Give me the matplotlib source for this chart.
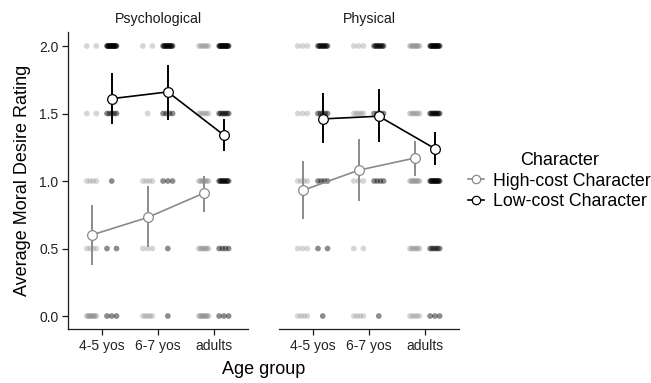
import matplotlib

matplotlib.use("Agg")
import matplotlib.pyplot as plt
import numpy as np
from matplotlib.lines import Line2D

plt.rcParams["font.family"] = ["Liberation Sans", "DejaVu Sans"]

AGES = ["4-5 yos", "6-7 yos", "adults"]
RATINGS = [0.0, 0.5, 1.0, 1.5, 2.0]
PANELS = ["Psychological", "Physical"]
CHARACTERS = ["High-cost Character", "Low-cost Character"]

# group means and error bar ends
psych_high_mean = [0.60, 0.73, 0.91]
psych_high_lo = [0.38, 0.51, 0.77]
psych_high_hi = [0.82, 0.96, 1.04]
psych_low_mean = [1.61, 1.66, 1.34]
psych_low_lo = [1.42, 1.45, 1.22]
psych_low_hi = [1.80, 1.86, 1.46]
phys_high_mean = [0.93, 1.08, 1.17]
phys_high_lo = [0.72, 0.85, 1.04]
phys_high_hi = [1.15, 1.31, 1.30]
phys_low_mean = [1.46, 1.48, 1.24]
phys_low_lo = [1.28, 1.29, 1.12]
phys_low_hi = [1.65, 1.68, 1.36]

# responses at each rating (0, .5, 1, 1.5, 2) for each age group
psych_high_n = [[10, 4, 4, 2, 2], [5, 3, 4, 1, 2], [10, 8, 8, 6, 7]]
psych_low_n = [[3, 2, 1, 5, 16], [1, 1, 3, 4, 12], [3, 4, 10, 7, 15]]
phys_high_n = [[4, 3, 4, 3, 3], [4, 2, 3, 5, 3], [5, 7, 9, 7, 10]]
phys_low_n = [[1, 2, 4, 5, 10], [1, 0, 4, 4, 9], [3, 6, 13, 10, 14]]

GREY = "#8a8a8a"
INK = "#1a1a1a"
COLORS = [GREY, "black"]
PT_ALPHA = [0.35, 0.45]
DODGE = [-0.18, 0.18]
JIT = 0.085

panel_data = [
    [(psych_high_mean, psych_high_lo, psych_high_hi, psych_high_n),
     (psych_low_mean, psych_low_lo, psych_low_hi, psych_low_n)],
    [(phys_high_mean, phys_high_lo, phys_high_hi, phys_high_n),
     (phys_low_mean, phys_low_lo, phys_low_hi, phys_low_n)],
]

fig = plt.figure(figsize=(6.51, 3.83), dpi=100)
lefts = [68 / 651, 279 / 651]
width = 180 / 651
bottom, height = 54 / 383, 296.5 / 383

for p, (title, series) in enumerate(zip(PANELS, panel_data)):
    ax = fig.add_axes([lefts[p], bottom, width, height])
    x = np.arange(1, len(AGES) + 1)
    for c, (mean, lo, hi, counts) in enumerate(series):
        col = COLORS[c]
        # jittered raw responses
        for i, row in enumerate(counts):
            for r, n in zip(RATINGS, row):
                if n == 0:
                    continue
                offs = np.linspace(-JIT, JIT, n) if n > 1 else np.array([0.0])
                ax.scatter(x[i] + DODGE[c] + offs, np.full(n, r), s=17,
                           color=col, alpha=PT_ALPHA[c], edgecolor="none",
                           zorder=2)
        xs = x + DODGE[c]
        mean = np.array(mean)
        ax.errorbar(xs, mean, yerr=[mean - np.array(lo), np.array(hi) - mean],
                    fmt="none", ecolor=col, elinewidth=1.4, capsize=0, zorder=3)
        ax.plot(xs, mean, color=col, lw=1.2, zorder=4)
        ax.plot(xs, mean, "o", ms=7, mfc="white", mec=col, mew=0.9, zorder=5)
    ax.set_xlim(0.4, 3.61)
    ax.set_ylim(-0.096, 2.1)
    ax.set_xticks(x)
    ax.set_xticklabels(AGES)
    ax.set_yticks(RATINGS)
    ax.set_yticklabels([f"{r:.1f}" for r in RATINGS])
    for s in ["top", "right"]:
        ax.spines[s].set_visible(False)
    for s in ["left", "bottom"]:
        ax.spines[s].set_linewidth(0.9)
        ax.spines[s].set_color(INK)
    ax.tick_params(length=4, width=0.9, color=INK, labelsize=10,
                   labelcolor="#222222", pad=3)
    if p == 1:
        ax.spines["left"].set_visible(False)
        ax.tick_params(axis="y", left=False, labelleft=False)
    ax.set_title(title, fontsize=10.2, color="#1a1a1a", pad=7)
    if p == 0:
        ax.set_ylabel("Average Moral Desire Rating", fontsize=13, labelpad=6)

fig.text(264 / 651, 1 - 370 / 383, "Age group", ha="center", va="center",
         fontsize=13)

handles = [Line2D([0], [0], color=COLORS[c], lw=1.2, marker="o", ms=6,
                  mfc="white", mec=COLORS[c], mew=0.9) for c in range(2)]
fig.legend(handles, CHARACTERS, title="Character", loc="center left",
           bbox_to_anchor=(461 / 651, 1 - 181 / 383), frameon=False,
           fontsize=12.8, title_fontsize=13, handlelength=0.9,
           handletextpad=0.5, labelspacing=0.2, borderaxespad=0.0)

fig.savefig("out.png", dpi=100)
